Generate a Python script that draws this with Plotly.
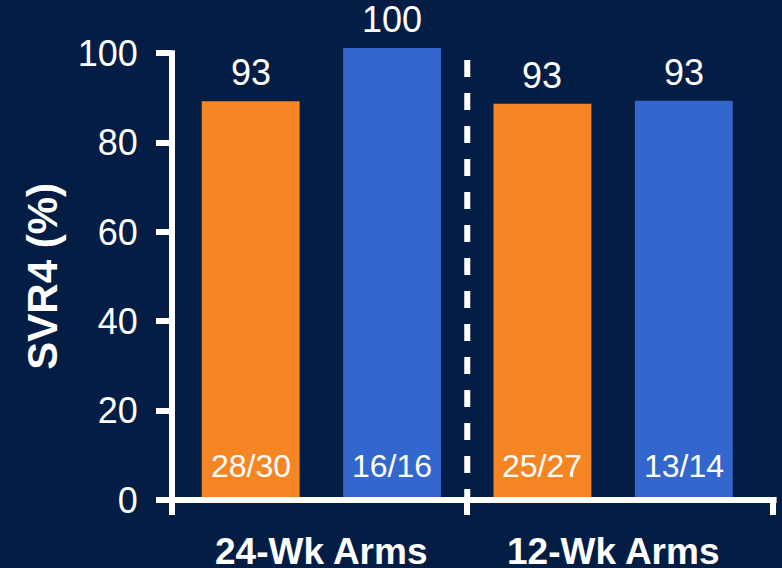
import plotly.graph_objects as go

# ---- data ----
groups = ["24-Wk Arms", "12-Wk Arms"]
arm_names = ["Arm A", "Arm B"]
bar_heights = {"Arm A": [89.3, 88.7], "Arm B": [101.2, 89.4]}
svr_labels = {"Arm A": ["93", "93"], "Arm B": ["100", "93"]}
n_labels = {"Arm A": ["28/30", "25/27"], "Arm B": ["16/16", "13/14"]}
arm_colors = {"Arm A": "#F68524", "Arm B": "#3467CD"}
y_ticks = [0, 20, 40, 60, 80, 100]

BG = "#041D45"
FONT = "Liberation Sans, Arial, sans-serif"
x_range = [-0.512, 1.548]
divider = 0.5
BARGAP = 0.031
BARGROUPGAP = 0.3075

fig = go.Figure()
for name in arm_names:
    fig.add_trace(go.Bar(name=name, x=groups, y=bar_heights[name],
                         marker=dict(color=arm_colors[name], line=dict(width=0)),
                         showlegend=False, hoverinfo="skip"))

slot = (1 - BARGAP) / len(arm_names)
ann = []
for k, name in enumerate(arm_names):
    off = (k - (len(arm_names) - 1) / 2) * slot
    for gi in range(len(groups)):
        xpos = gi + off
        ann.append(dict(x=xpos, y=bar_heights[name][gi], xref="x", yref="y",
                        text=svr_labels[name][gi], showarrow=False, yanchor="bottom", yshift=6,
                        font=dict(family=FONT, size=36, color="white")))
        ann.append(dict(x=xpos, y=0, xref="x", yref="y", text=n_labels[name][gi],
                        showarrow=False, yanchor="bottom", yshift=14,
                        font=dict(family=FONT, size=32, color="white")))
for gi, g in enumerate(groups):
    ann.append(dict(x=gi, y=-0.061, xref="x", yref="paper", text="<b>" + g + "</b>",
                    showarrow=False, yanchor="top",
                    font=dict(family=FONT, size=37, color="white")))
ann.append(dict(x=-0.2146, y=50, xref="paper", yref="y", text="<b>SVR4 (%)</b>", textangle=-90,
                showarrow=False, xanchor="center", yanchor="middle",
                font=dict(family=FONT, size=42, color="white")))

shapes = [
    # y axis line (0..100)
    dict(type="line", xref="paper", yref="y", x0=0, x1=0, y0=0, y1=100.7,
         line=dict(color="white", width=6)),
    # x axis line
    dict(type="line", xref="paper", yref="paper", x0=-0.006, x1=1.006, y0=0, y1=0,
         line=dict(color="white", width=6)),
    # dashed divider
    dict(type="line", xref="x", yref="y", x0=divider, x1=divider, y0=98.5, y1=0,
         line=dict(color="white", width=6, dash="17px,16px")),
]

fig.update_layout(
    width=782, height=568,
    margin=dict(l=172, r=9, t=31, b=68, autoexpand=False),
    paper_bgcolor=BG, plot_bgcolor=BG,
    font=dict(family=FONT, color="white"),
    annotations=ann, shapes=shapes,
    barmode="group", bargap=BARGAP, bargroupgap=BARGROUPGAP,
    xaxis=dict(range=x_range, showgrid=False, zeroline=False, showline=False,
               tickvals=[x_range[0], divider, x_range[1]], ticktext=["", "", ""],
               ticks="outside", ticklen=14, tickwidth=6, tickcolor="white", automargin=False),
    yaxis=dict(range=[0, 105], showgrid=False, zeroline=False, showline=False,
               tickvals=y_ticks, ticks="outside", ticklen=15, tickwidth=6, tickcolor="white",
               tickfont=dict(family=FONT, size=36, color="white"), ticklabelstandoff=11,
               automargin=False),
)

fig.write_html("out.html")
